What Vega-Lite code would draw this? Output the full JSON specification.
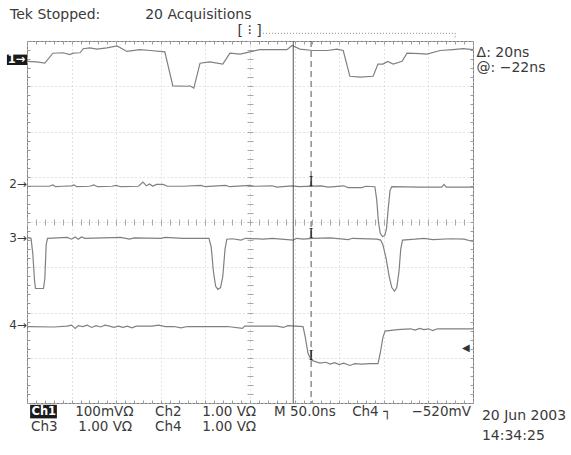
{
  "$schema": "https://vega.github.io/schema/vega-lite/v6.json",
  "width": 446,
  "height": 362,
  "autosize": "none",
  "padding": {"left": 27, "top": 41, "right": 98, "bottom": 52},
  "background": "white",
  "config": {
    "view": {"stroke": "#808080", "strokeWidth": 1},
    "axis": {"labels": false, "title": null, "domain": false, "grid": false, "ticks": false},
    "text": {"font": "DejaVu Sans"}
  },
  "resolve": {"axis": {"x": "independent", "y": "independent"}},
  "datasets": {
    "traces": [
      {"ch": "1", "t": 0, "v": 3.55}, {"ch": "1", "t": 0.22, "v": 3.54}, {"ch": "1", "t": 0.4, "v": 3.51}, {"ch": "1", "t": 0.58, "v": 3.73},
      {"ch": "1", "t": 0.81, "v": 3.74}, {"ch": "1", "t": 0.96, "v": 3.7}, {"ch": "1", "t": 1.03, "v": 3.73}, {"ch": "1", "t": 1.19, "v": 3.74},
      {"ch": "1", "t": 1.26, "v": 3.83}, {"ch": "1", "t": 1.41, "v": 3.85}, {"ch": "1", "t": 1.57, "v": 3.82}, {"ch": "1", "t": 1.79, "v": 3.85},
      {"ch": "1", "t": 2.02, "v": 3.89}, {"ch": "1", "t": 2.24, "v": 3.77}, {"ch": "1", "t": 2.53, "v": 3.81}, {"ch": "1", "t": 2.76, "v": 3.79},
      {"ch": "1", "t": 3.09, "v": 3.76}, {"ch": "1", "t": 3.27, "v": 3.01}, {"ch": "1", "t": 3.59, "v": 3.0}, {"ch": "1", "t": 3.65, "v": 3.01},
      {"ch": "1", "t": 3.74, "v": 2.96}, {"ch": "1", "t": 3.88, "v": 3.51}, {"ch": "1", "t": 4.1, "v": 3.54}, {"ch": "1", "t": 4.39, "v": 3.49},
      {"ch": "1", "t": 4.55, "v": 3.73}, {"ch": "1", "t": 4.78, "v": 3.71}, {"ch": "1", "t": 5.0, "v": 3.76}, {"ch": "1", "t": 5.22, "v": 3.81},
      {"ch": "1", "t": 5.52, "v": 3.81}, {"ch": "1", "t": 5.83, "v": 3.81}, {"ch": "1", "t": 5.94, "v": 3.9}, {"ch": "1", "t": 6.12, "v": 3.82},
      {"ch": "1", "t": 6.41, "v": 3.79}, {"ch": "1", "t": 6.73, "v": 3.79}, {"ch": "1", "t": 6.95, "v": 3.82}, {"ch": "1", "t": 7.09, "v": 3.79},
      {"ch": "1", "t": 7.24, "v": 3.22}, {"ch": "1", "t": 7.47, "v": 3.2}, {"ch": "1", "t": 7.76, "v": 3.22}, {"ch": "1", "t": 7.87, "v": 3.49},
      {"ch": "1", "t": 7.98, "v": 3.49}, {"ch": "1", "t": 8.09, "v": 3.55}, {"ch": "1", "t": 8.21, "v": 3.49}, {"ch": "1", "t": 8.41, "v": 3.55},
      {"ch": "1", "t": 8.52, "v": 3.73}, {"ch": "1", "t": 8.81, "v": 3.72}, {"ch": "1", "t": 8.97, "v": 3.71}, {"ch": "1", "t": 9.26, "v": 3.79},
      {"ch": "1", "t": 9.55, "v": 3.81}, {"ch": "1", "t": 9.78, "v": 3.83}, {"ch": "1", "t": 10, "v": 3.81},

      {"ch": "2", "t": 0, "v": 0.79}, {"ch": "2", "t": 0.5, "v": 0.79}, {"ch": "2", "t": 0.58, "v": 0.82}, {"ch": "2", "t": 0.64, "v": 0.78},
      {"ch": "2", "t": 0.8, "v": 0.79}, {"ch": "2", "t": 1.0, "v": 0.8}, {"ch": "2", "t": 1.05, "v": 0.82}, {"ch": "2", "t": 1.12, "v": 0.78},
      {"ch": "2", "t": 1.4, "v": 0.79}, {"ch": "2", "t": 1.5, "v": 0.82}, {"ch": "2", "t": 1.58, "v": 0.78}, {"ch": "2", "t": 1.9, "v": 0.79},
      {"ch": "2", "t": 2.0, "v": 0.81}, {"ch": "2", "t": 2.1, "v": 0.78}, {"ch": "2", "t": 2.5, "v": 0.79}, {"ch": "2", "t": 2.6, "v": 0.88},
      {"ch": "2", "t": 2.68, "v": 0.8}, {"ch": "2", "t": 2.75, "v": 0.84}, {"ch": "2", "t": 2.82, "v": 0.79}, {"ch": "2", "t": 2.9, "v": 0.83},
      {"ch": "2", "t": 3.05, "v": 0.83}, {"ch": "2", "t": 3.15, "v": 0.79}, {"ch": "2", "t": 3.5, "v": 0.79}, {"ch": "2", "t": 3.9, "v": 0.81},
      {"ch": "2", "t": 4.0, "v": 0.78}, {"ch": "2", "t": 4.45, "v": 0.81}, {"ch": "2", "t": 4.55, "v": 0.78}, {"ch": "2", "t": 5.0, "v": 0.81},
      {"ch": "2", "t": 5.1, "v": 0.79}, {"ch": "2", "t": 5.5, "v": 0.8}, {"ch": "2", "t": 5.6, "v": 0.77}, {"ch": "2", "t": 5.95, "v": 0.8},
      {"ch": "2", "t": 6.1, "v": 0.78}, {"ch": "2", "t": 6.6, "v": 0.8}, {"ch": "2", "t": 6.75, "v": 0.77}, {"ch": "2", "t": 7.1, "v": 0.8},
      {"ch": "2", "t": 7.2, "v": 0.76}, {"ch": "2", "t": 7.5, "v": 0.76}, {"ch": "2", "t": 7.6, "v": 0.79}, {"ch": "2", "t": 7.8, "v": 0.78},
      {"ch": "2", "t": 7.84, "v": 0.5}, {"ch": "2", "t": 7.88, "v": 0.0}, {"ch": "2", "t": 7.92, "v": -0.25}, {"ch": "2", "t": 7.97, "v": -0.32},
      {"ch": "2", "t": 8.02, "v": -0.3}, {"ch": "2", "t": 8.06, "v": -0.15}, {"ch": "2", "t": 8.1, "v": 0.3}, {"ch": "2", "t": 8.14, "v": 0.7},
      {"ch": "2", "t": 8.18, "v": 0.78}, {"ch": "2", "t": 8.8, "v": 0.77}, {"ch": "2", "t": 9.3, "v": 0.77}, {"ch": "2", "t": 9.35, "v": 0.83},
      {"ch": "2", "t": 9.4, "v": 0.77}, {"ch": "2", "t": 10, "v": 0.77},

      {"ch": "3", "t": 0, "v": -0.34}, {"ch": "3", "t": 0.09, "v": -0.36}, {"ch": "3", "t": 0.13, "v": -0.7}, {"ch": "3", "t": 0.17, "v": -1.3},
      {"ch": "3", "t": 0.19, "v": -1.47}, {"ch": "3", "t": 0.37, "v": -1.47}, {"ch": "3", "t": 0.4, "v": -1.25}, {"ch": "3", "t": 0.43, "v": -0.5},
      {"ch": "3", "t": 0.46, "v": -0.36}, {"ch": "3", "t": 0.9, "v": -0.34}, {"ch": "3", "t": 1.0, "v": -0.38}, {"ch": "3", "t": 1.08, "v": -0.33},
      {"ch": "3", "t": 1.15, "v": -0.38}, {"ch": "3", "t": 1.22, "v": -0.33}, {"ch": "3", "t": 1.3, "v": -0.36}, {"ch": "3", "t": 2.1, "v": -0.34},
      {"ch": "3", "t": 2.3, "v": -0.38}, {"ch": "3", "t": 2.4, "v": -0.35}, {"ch": "3", "t": 3.0, "v": -0.36}, {"ch": "3", "t": 3.1, "v": -0.34},
      {"ch": "3", "t": 3.5, "v": -0.36}, {"ch": "3", "t": 4.08, "v": -0.36}, {"ch": "3", "t": 4.13, "v": -0.55}, {"ch": "3", "t": 4.18, "v": -1.1},
      {"ch": "3", "t": 4.23, "v": -1.42}, {"ch": "3", "t": 4.28, "v": -1.49}, {"ch": "3", "t": 4.34, "v": -1.45}, {"ch": "3", "t": 4.39, "v": -1.2},
      {"ch": "3", "t": 4.44, "v": -0.6}, {"ch": "3", "t": 4.48, "v": -0.38}, {"ch": "3", "t": 4.6, "v": -0.37}, {"ch": "3", "t": 4.8, "v": -0.4},
      {"ch": "3", "t": 4.9, "v": -0.36}, {"ch": "3", "t": 5.3, "v": -0.38}, {"ch": "3", "t": 5.5, "v": -0.36}, {"ch": "3", "t": 5.97, "v": -0.4},
      {"ch": "3", "t": 6.05, "v": -0.36}, {"ch": "3", "t": 6.2, "v": -0.38}, {"ch": "3", "t": 6.4, "v": -0.36}, {"ch": "3", "t": 6.8, "v": -0.35},
      {"ch": "3", "t": 7.2, "v": -0.39}, {"ch": "3", "t": 7.3, "v": -0.36}, {"ch": "3", "t": 7.85, "v": -0.38}, {"ch": "3", "t": 7.93, "v": -0.4},
      {"ch": "3", "t": 7.98, "v": -0.5}, {"ch": "3", "t": 8.05, "v": -0.8}, {"ch": "3", "t": 8.12, "v": -1.2}, {"ch": "3", "t": 8.18, "v": -1.45},
      {"ch": "3", "t": 8.24, "v": -1.53}, {"ch": "3", "t": 8.29, "v": -1.45}, {"ch": "3", "t": 8.34, "v": -1.1}, {"ch": "3", "t": 8.38, "v": -0.6},
      {"ch": "3", "t": 8.42, "v": -0.4}, {"ch": "3", "t": 8.7, "v": -0.38}, {"ch": "3", "t": 8.9, "v": -0.36}, {"ch": "3", "t": 9.1, "v": -0.39},
      {"ch": "3", "t": 9.5, "v": -0.37}, {"ch": "3", "t": 9.8, "v": -0.38}, {"ch": "3", "t": 10, "v": -0.43},

      {"ch": "4", "t": 0, "v": -2.31}, {"ch": "4", "t": 0.6, "v": -2.32}, {"ch": "4", "t": 0.9, "v": -2.3}, {"ch": "4", "t": 1.0, "v": -2.28},
      {"ch": "4", "t": 1.08, "v": -2.35}, {"ch": "4", "t": 1.15, "v": -2.29}, {"ch": "4", "t": 1.25, "v": -2.31}, {"ch": "4", "t": 1.35, "v": -2.28},
      {"ch": "4", "t": 1.45, "v": -2.33}, {"ch": "4", "t": 1.55, "v": -2.29}, {"ch": "4", "t": 1.65, "v": -2.32}, {"ch": "4", "t": 1.75, "v": -2.28},
      {"ch": "4", "t": 1.85, "v": -2.3}, {"ch": "4", "t": 1.95, "v": -2.33}, {"ch": "4", "t": 2.05, "v": -2.3}, {"ch": "4", "t": 2.15, "v": -2.33},
      {"ch": "4", "t": 2.25, "v": -2.3}, {"ch": "4", "t": 2.35, "v": -2.34}, {"ch": "4", "t": 2.45, "v": -2.3}, {"ch": "4", "t": 2.8, "v": -2.3},
      {"ch": "4", "t": 2.95, "v": -2.28}, {"ch": "4", "t": 3.1, "v": -2.31}, {"ch": "4", "t": 3.3, "v": -2.31}, {"ch": "4", "t": 3.45, "v": -2.34},
      {"ch": "4", "t": 3.6, "v": -2.31}, {"ch": "4", "t": 4.5, "v": -2.31}, {"ch": "4", "t": 4.83, "v": -2.35}, {"ch": "4", "t": 4.88, "v": -2.3},
      {"ch": "4", "t": 5.6, "v": -2.3}, {"ch": "4", "t": 5.75, "v": -2.33}, {"ch": "4", "t": 5.85, "v": -2.29}, {"ch": "4", "t": 6.19, "v": -2.31},
      {"ch": "4", "t": 6.24, "v": -2.55}, {"ch": "4", "t": 6.3, "v": -2.9}, {"ch": "4", "t": 6.37, "v": -3.05}, {"ch": "4", "t": 6.45, "v": -3.08},
      {"ch": "4", "t": 6.57, "v": -3.12}, {"ch": "4", "t": 6.7, "v": -3.1}, {"ch": "4", "t": 6.8, "v": -3.14}, {"ch": "4", "t": 6.9, "v": -3.11},
      {"ch": "4", "t": 7.0, "v": -3.15}, {"ch": "4", "t": 7.1, "v": -3.12}, {"ch": "4", "t": 7.24, "v": -3.17}, {"ch": "4", "t": 7.35, "v": -3.13},
      {"ch": "4", "t": 7.5, "v": -3.14}, {"ch": "4", "t": 7.7, "v": -3.13}, {"ch": "4", "t": 7.87, "v": -3.13}, {"ch": "4", "t": 7.92, "v": -2.9},
      {"ch": "4", "t": 7.98, "v": -2.55}, {"ch": "4", "t": 8.03, "v": -2.41}, {"ch": "4", "t": 8.3, "v": -2.38}, {"ch": "4", "t": 8.6, "v": -2.36},
      {"ch": "4", "t": 8.7, "v": -2.39}, {"ch": "4", "t": 8.8, "v": -2.35}, {"ch": "4", "t": 8.9, "v": -2.38}, {"ch": "4", "t": 9.0, "v": -2.36},
      {"ch": "4", "t": 9.1, "v": -2.4}, {"ch": "4", "t": 9.2, "v": -2.36}, {"ch": "4", "t": 9.6, "v": -2.36}, {"ch": "4", "t": 10, "v": -2.36}
    ]
  },
  "layer": [
    {
      "data": {"name": "traces"},
      "mark": {"type": "line", "color": "#808080", "strokeWidth": 1.2},
      "encoding": {
        "x": {"field": "t", "type": "quantitative", "scale": {"domain": [0, 10], "nice": false, "zero": false},
              "axis": {"orient": "bottom", "values": [0,1,2,3,4,5,6,7,8,9,10], "grid": true, "gridDash": [1, 3], "gridColor": "#c8c8c8", "ticks": false, "labels": false, "domain": false, "title": null}},
        "y": {"field": "v", "type": "quantitative", "scale": {"domain": [-4, 4], "nice": false, "zero": false},
              "axis": {"orient": "left", "values": [-4,-3,-2,-1,0,1,2,3,4], "grid": true, "gridDash": [1, 3], "gridColor": "#c8c8c8", "ticks": false, "labels": false, "domain": false, "title": null}},
        "detail": {"field": "ch"}
      }
    },
    {
      "data": {"values": [{"t": 5.97}]},
      "mark": {"type": "rule", "color": "#555555", "strokeWidth": 1},
      "encoding": {
        "x": {"field": "t", "type": "quantitative", "scale": {"domain": [0, 10], "nice": false, "zero": false},
              "axis": {"orient": "top", "offset": -3, "ticks": true, "tickSize": 3, "tickColor": "#9a9a9a", "labels": false, "domain": false, "grid": false, "title": null,
                       "values": [0,0.2,0.4,0.6,0.8,1,1.2,1.4,1.6,1.8,2,2.2,2.4,2.6,2.8,3,3.2,3.4,3.6,3.8,4,4.2,4.4,4.6,4.8,5,5.2,5.4,5.6,5.8,6,6.2,6.4,6.6,6.8,7,7.2,7.4,7.6,7.8,8,8.2,8.4,8.6,8.8,9,9.2,9.4,9.6,9.8,10]}}
      }
    },
    {
      "data": {"values": [{"t": 6.37}]},
      "mark": {"type": "rule", "color": "#555555", "strokeWidth": 1, "strokeDash": [6, 4]},
      "encoding": {
        "x": {"field": "t", "type": "quantitative", "scale": {"domain": [0, 10], "nice": false, "zero": false},
              "axis": {"orient": "bottom", "offset": -3, "ticks": true, "tickSize": 3, "tickColor": "#9a9a9a", "labels": false, "domain": false, "grid": false, "title": null,
                       "values": [0,0.2,0.4,0.6,0.8,1,1.2,1.4,1.6,1.8,2,2.2,2.4,2.6,2.8,3,3.2,3.4,3.6,3.8,4,4.2,4.4,4.6,4.8,5,5.2,5.4,5.6,5.8,6,6.2,6.4,6.6,6.8,7,7.2,7.4,7.6,7.8,8,8.2,8.4,8.6,8.8,9,9.2,9.4,9.6,9.8,10]}}
      }
    },
    {
      "data": {"values": [{"t": -0.45, "t2": 0, "v": 3.7, "v2": 3.47}, {"t": 0.07, "t2": 0.67, "v": -4.04, "v2": -4.34}]},
      "mark": {"type": "rect", "color": "#1a1a1a"},
      "encoding": {
        "x": {"field": "t", "type": "quantitative", "scale": {"domain": [0, 10], "nice": false, "zero": false},
              "axis": {"orient": "bottom", "offset": -184, "ticks": true, "tickSize": 6, "tickColor": "#a8a8a8", "labels": false, "domain": false, "grid": false, "title": null,
                       "values": [0,0.2,0.4,0.6,0.8,1,1.2,1.4,1.6,1.8,2,2.2,2.4,2.6,2.8,3,3.2,3.4,3.6,3.8,4,4.2,4.4,4.6,4.8,5,5.2,5.4,5.6,5.8,6,6.2,6.4,6.6,6.8,7,7.2,7.4,7.6,7.8,8,8.2,8.4,8.6,8.8,9,9.2,9.4,9.6,9.8,10]}},
        "x2": {"field": "t2"},
        "y": {"field": "v", "type": "quantitative", "scale": {"domain": [-4, 4], "nice": false, "zero": false},
              "axis": {"orient": "left", "offset": -226, "ticks": true, "tickSize": 6, "tickColor": "#a8a8a8", "labels": false, "domain": false, "grid": false, "title": null,
                       "values": [-4,-3.8,-3.6,-3.4,-3.2,-3,-2.8,-2.6,-2.4,-2.2,-2,-1.8,-1.6,-1.4,-1.2,-1,-0.8,-0.6,-0.4,-0.2,0,0.2,0.4,0.6,0.8,1,1.2,1.4,1.6,1.8,2,2.2,2.4,2.6,2.8,3,3.2,3.4,3.6,3.8,4]}},
        "y2": {"field": "v2"}
      }
    },
    {
      "data": {"values": [{"t": -0.43, "v": 3.59, "label": "1→"}, {"t": 0.1, "v": -4.19, "label": "Ch1"}]},
      "mark": {"type": "text", "color": "white", "fontWeight": "bold", "fontSize": 11.5, "align": "left", "baseline": "middle"},
      "encoding": {
        "x": {"field": "t", "type": "quantitative", "scale": {"domain": [0, 10], "nice": false, "zero": false}, "axis": null},
        "y": {"field": "v", "type": "quantitative", "scale": {"domain": [-4, 4], "nice": false, "zero": false},
              "axis": {"orient": "left", "offset": -3, "ticks": true, "tickSize": 3, "tickColor": "#9a9a9a", "labels": false, "domain": false, "grid": false, "title": null,
                       "values": [-4,-3.8,-3.6,-3.4,-3.2,-3,-2.8,-2.6,-2.4,-2.2,-2,-1.8,-1.6,-1.4,-1.2,-1,-0.8,-0.6,-0.4,-0.2,0,0.2,0.4,0.6,0.8,1,1.2,1.4,1.6,1.8,2,2.2,2.4,2.6,2.8,3,3.2,3.4,3.6,3.8,4]}},
        "text": {"field": "label"}
      }
    },
    {
      "data": {"values": [
        {"t": -0.38, "v": 4.57, "label": "Tek Stopped:"},
        {"t": 2.65, "v": 4.57, "label": "20 Acquisitions"},
        {"t": 4.72, "v": 4.22, "label": "[ ⁝ ]"},
        {"t": 10.08, "v": 3.73, "label": "Δ: 20ns"},
        {"t": 10.08, "v": 3.4, "label": "@: −22ns"},
        {"t": 10.2, "v": -4.28, "label": "20 Jun 2003"},
        {"t": 10.2, "v": -4.72, "label": "14:34:25"}
      ]},
      "mark": {"type": "text", "color": "#3a3a3a", "fontSize": 14, "align": "left", "baseline": "middle"},
      "encoding": {
        "x": {"field": "t", "type": "quantitative", "scale": {"domain": [0, 10], "nice": false, "zero": false}, "axis": null},
        "y": {"field": "v", "type": "quantitative", "scale": {"domain": [-4, 4], "nice": false, "zero": false},
              "axis": {"orient": "right", "offset": -3, "ticks": true, "tickSize": 3, "tickColor": "#9a9a9a", "labels": false, "domain": false, "grid": false, "title": null,
                       "values": [-4,-3.8,-3.6,-3.4,-3.2,-3,-2.8,-2.6,-2.4,-2.2,-2,-1.8,-1.6,-1.4,-1.2,-1,-0.8,-0.6,-0.4,-0.2,0,0.2,0.4,0.6,0.8,1,1.2,1.4,1.6,1.8,2,2.2,2.4,2.6,2.8,3,3.2,3.4,3.6,3.8,4]}},
        "text": {"field": "label"}
      }
    },
    {
      "data": {"values": [
        {"t": 1.08, "v": -4.19, "label": "100mVΩ"},
        {"t": 2.87, "v": -4.19, "label": "Ch2"},
        {"t": 3.93, "v": -4.19, "label": "1.00 VΩ"},
        {"t": 5.54, "v": -4.19, "label": "M 50.0ns"},
        {"t": 7.29, "v": -4.19, "label": "Ch4 ┐"},
        {"t": 8.62, "v": -4.19, "label": "−520mV"},
        {"t": 0.09, "v": -4.54, "label": "Ch3"},
        {"t": 1.15, "v": -4.54, "label": "1.00 VΩ"},
        {"t": 2.87, "v": -4.54, "label": "Ch4"},
        {"t": 3.93, "v": -4.54, "label": "1.00 VΩ"}
      ]},
      "mark": {"type": "text", "color": "#3a3a3a", "fontSize": 13.5, "align": "left", "baseline": "middle"},
      "encoding": {
        "x": {"field": "t", "type": "quantitative", "scale": {"domain": [0, 10], "nice": false, "zero": false}, "axis": null},
        "y": {"field": "v", "type": "quantitative", "scale": {"domain": [-4, 4], "nice": false, "zero": false}, "axis": null},
        "text": {"field": "label"}
      }
    },
    {
      "data": {"values": [{"t": -0.4, "v": 0.85, "label": "2→"}, {"t": -0.4, "v": -0.35, "label": "3→"}, {"t": -0.4, "v": -2.28, "label": "4→"}]},
      "mark": {"type": "text", "color": "#3a3a3a", "fontSize": 12, "align": "left", "baseline": "middle"},
      "encoding": {
        "x": {"field": "t", "type": "quantitative", "scale": {"domain": [0, 10], "nice": false, "zero": false}, "axis": null},
        "y": {"field": "v", "type": "quantitative", "scale": {"domain": [-4, 4], "nice": false, "zero": false}, "axis": null},
        "text": {"field": "label"}
      }
    },
    {
      "data": {"values": [{"t": 6.37, "v": 0.89, "label": "I"}, {"t": 6.37, "v": -0.27, "label": "I"}, {"t": 6.37, "v": -2.96, "label": "I"}]},
      "mark": {"type": "text", "color": "#222222", "font": "Liberation Serif", "fontSize": 14, "align": "center", "baseline": "middle"},
      "encoding": {
        "x": {"field": "t", "type": "quantitative", "scale": {"domain": [0, 10], "nice": false, "zero": false}, "axis": null},
        "y": {"field": "v", "type": "quantitative", "scale": {"domain": [-4, 4], "nice": false, "zero": false}, "axis": null},
        "text": {"field": "label"}
      }
    },
    {
      "data": {"values": [{"t": 9.84, "v": -2.78, "label": "◀"}]},
      "mark": {"type": "text", "color": "#333333", "fontSize": 10, "align": "center", "baseline": "middle"},
      "encoding": {
        "x": {"field": "t", "type": "quantitative", "scale": {"domain": [0, 10], "nice": false, "zero": false}, "axis": null},
        "y": {"field": "v", "type": "quantitative", "scale": {"domain": [-4, 4], "nice": false, "zero": false}, "axis": null},
        "text": {"field": "label"}
      }
    },
    {
      "data": {"values": [{"t": 5.29, "t2": 9.6, "v": 4.17, "v2": 4.17}, {"t": 9.6, "t2": 9.6, "v": 4.17, "v2": 4.06}]},
      "mark": {"type": "rule", "color": "#888888", "strokeWidth": 1, "strokeDash": [1, 2]},
      "encoding": {
        "x": {"field": "t", "type": "quantitative", "scale": {"domain": [0, 10], "nice": false, "zero": false}, "axis": null},
        "x2": {"field": "t2"},
        "y": {"field": "v", "type": "quantitative", "scale": {"domain": [-4, 4], "nice": false, "zero": false}, "axis": null},
        "y2": {"field": "v2"}
      }
    }
  ]
}
